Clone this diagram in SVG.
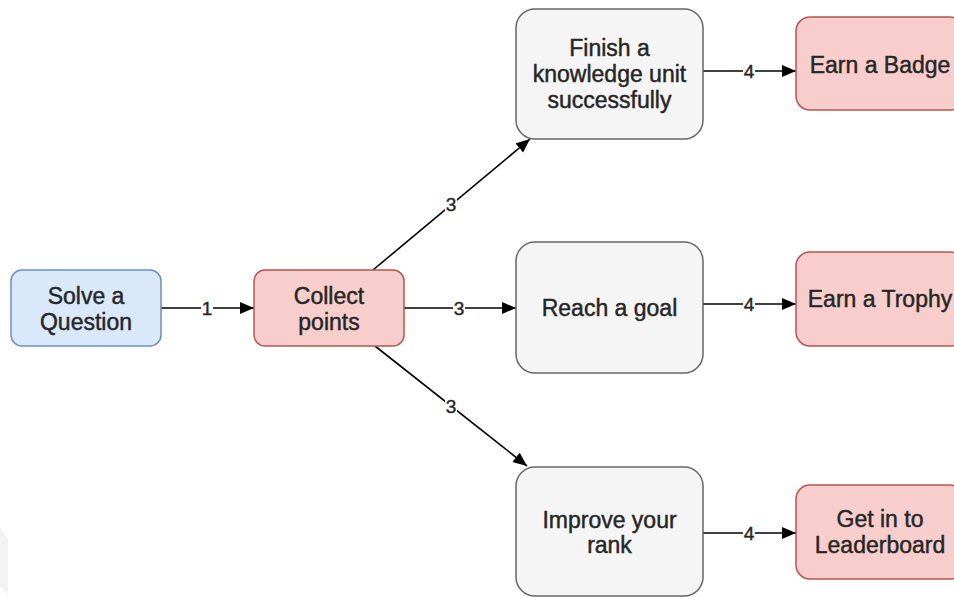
<svg xmlns="http://www.w3.org/2000/svg" width="954" height="597" viewBox="0 0 954 597">
  <defs>
    <marker id="arrow" markerUnits="userSpaceOnUse" markerWidth="15" markerHeight="13" refX="14" refY="6" orient="auto">
      <path d="M0,0 L14,6 L0,12 z" fill="#000"/>
    </marker>
  </defs>
  <style>
    .box-blue { fill: #dae8fc; stroke: #6c8ebf; stroke-width: 1.5; }
    .box-red { fill: #f8cecc; stroke: #b85450; stroke-width: 1.5; }
    .box-grey { fill: #f5f5f5; stroke: #666666; stroke-width: 1.5; }
    .node-text { font-family: "Liberation Sans", Arial, sans-serif; font-size: 23px; fill: #262626; stroke: #262626; stroke-width: 0.45; text-anchor: middle; }
    .edge { stroke: #000; stroke-width: 1.6; fill: none; marker-end: url(#arrow); }
    .edge-label { font-family: "Liberation Sans", Arial, sans-serif; font-size: 19px; fill: #262626; stroke: #262626; stroke-width: 0.4; text-anchor: middle; }
    .label-bg { fill: #fff; }
  </style>

  <rect width="954" height="597" fill="#fff"/>
  <polygon points="0,528 8,538 8,594 0,586" fill="#f3f3f3"/>

  <!-- connectors -->
  <g id="connectors">
    <line class="edge" x1="161" y1="308" x2="254" y2="308"/>
    <line class="edge" x1="404" y1="308" x2="516" y2="308"/>
    <line class="edge" x1="373" y1="270" x2="530" y2="139"/>
    <line class="edge" x1="375" y1="346" x2="527" y2="466"/>
    <line class="edge" x1="703" y1="71" x2="796" y2="71"/>
    <line class="edge" x1="703" y1="304" x2="796" y2="304"/>
    <line class="edge" x1="703" y1="533" x2="796" y2="533"/>

    <rect class="label-bg" x="201" y="299" width="12" height="18"/>
    <text class="edge-label" x="207" y="315">1</text>
    <rect class="label-bg" x="453" y="299" width="12" height="18"/>
    <text class="edge-label" x="459" y="315">3</text>
    <rect class="label-bg" x="445" y="195" width="12" height="18"/>
    <text class="edge-label" x="451" y="211">3</text>
    <rect class="label-bg" x="445" y="397" width="12" height="18"/>
    <text class="edge-label" x="451" y="413">3</text>
    <rect class="label-bg" x="743" y="62" width="12" height="18"/>
    <text class="edge-label" x="749" y="78">4</text>
    <rect class="label-bg" x="743" y="295" width="12" height="18"/>
    <text class="edge-label" x="749" y="311">4</text>
    <rect class="label-bg" x="743" y="524" width="12" height="18"/>
    <text class="edge-label" x="749" y="540">4</text>
  </g>

  <!-- nodes -->
  <g id="solve-question">
    <rect class="box-blue" x="11" y="270" width="150" height="76" rx="11"/>
    <text class="node-text" x="86" y="303.5">Solve a</text>
    <text class="node-text" x="86" y="329.5">Question</text>
  </g>

  <g id="collect-points">
    <rect class="box-red" x="254" y="270" width="150" height="76" rx="11"/>
    <text class="node-text" x="329" y="303.5">Collect</text>
    <text class="node-text" x="329" y="329.5">points</text>
  </g>

  <g id="finish-unit">
    <rect class="box-grey" x="516" y="9" width="187" height="130" rx="19"/>
    <text class="node-text" x="609.5" y="56">Finish a</text>
    <text class="node-text" x="609.5" y="82">knowledge unit</text>
    <text class="node-text" x="609.5" y="108">successfully</text>
  </g>

  <g id="reach-goal">
    <rect class="box-grey" x="516" y="242" width="187" height="131" rx="19"/>
    <text class="node-text" x="609.5" y="316">Reach a goal</text>
  </g>

  <g id="improve-rank">
    <rect class="box-grey" x="516" y="467" width="187" height="129" rx="19"/>
    <text class="node-text" x="609.5" y="528">Improve your</text>
    <text class="node-text" x="609.5" y="553">rank</text>
  </g>

  <g id="earn-badge">
    <rect class="box-red" x="796" y="17" width="168" height="93" rx="14"/>
    <text class="node-text" x="880" y="73">Earn a Badge</text>
  </g>

  <g id="earn-trophy">
    <rect class="box-red" x="796" y="252" width="168" height="94" rx="14"/>
    <text class="node-text" x="880" y="307">Earn a Trophy</text>
  </g>

  <g id="leaderboard">
    <rect class="box-red" x="796" y="485" width="168" height="94" rx="14"/>
    <text class="node-text" x="880" y="527">Get in to</text>
    <text class="node-text" x="880" y="553">Leaderboard</text>
  </g>
</svg>
